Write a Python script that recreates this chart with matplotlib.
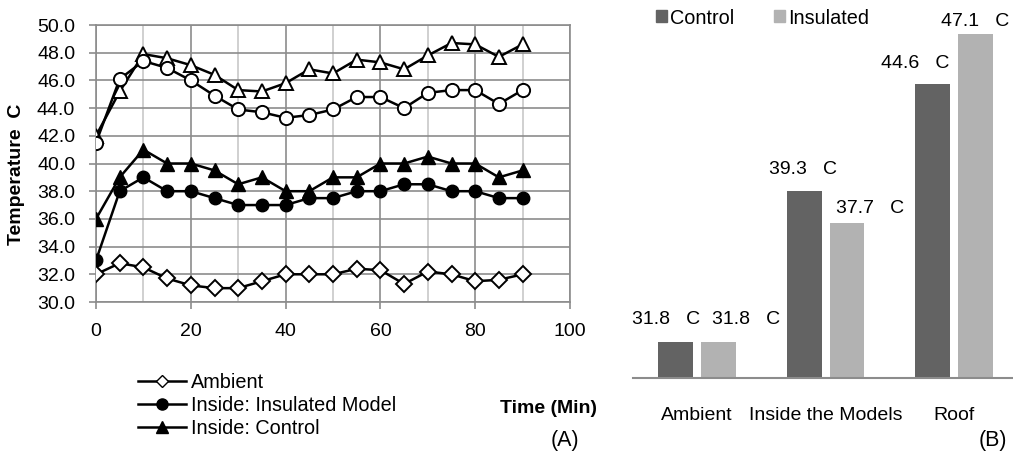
import numpy as np
import matplotlib.pyplot as plt
from matplotlib.patches import Patch
from matplotlib.lines import Line2D

plt.rcParams['font.family'] = ['Liberation Sans', 'DejaVu Sans']

# (A) temperature over time
time_min = [0, 5, 10, 15, 20, 25, 30, 35, 40, 45, 50, 55, 60, 65, 70, 75, 80, 85, 90]
ambient = [32.0, 32.8, 32.5, 31.7, 31.2, 31.0, 31.0, 31.5, 32.0, 32.0, 32.0, 32.4, 32.3, 31.3, 32.2, 32.0, 31.5, 31.6, 32.0]
inside_insulated = [33.0, 38.0, 39.0, 38.0, 38.0, 37.5, 37.0, 37.0, 37.0, 37.5, 37.5, 38.0, 38.0, 38.5, 38.5, 38.0, 38.0, 37.5, 37.5]
inside_control = [36.0, 39.0, 41.0, 40.0, 40.0, 39.5, 38.5, 39.0, 38.0, 38.0, 39.0, 39.0, 40.0, 40.0, 40.5, 40.0, 40.0, 39.0, 39.5]
roof_insulated = [41.5, 46.1, 47.4, 46.9, 46.0, 44.9, 43.9, 43.7, 43.3, 43.5, 43.9, 44.8, 44.8, 44.0, 45.1, 45.3, 45.3, 44.3, 45.3]
roof_control = [42.0, 45.2, 47.9, 47.6, 47.1, 46.4, 45.3, 45.2, 45.8, 46.8, 46.5, 47.5, 47.3, 46.8, 47.8, 48.7, 48.6, 47.7, 48.6]

# (B) averages
categories = ["Ambient", "Inside the Models", "Roof"]
avg_control = [31.8, 39.3, 44.6]
avg_insulated = [31.8, 37.7, 47.1]

W, H = 1013, 461
fig = plt.figure(figsize=(W / 100, H / 100), dpi=100)

def box(x0, y0, x1, y1):
    # pixel box -> figure fraction
    return [x0 / W, 1 - y1 / H, (x1 - x0) / W, (y1 - y0) / H]

grid_dark = '#8c8c8c'
grid_light = '#c8c8c8'
fs = 14

ax = fig.add_axes(box(96, 25, 570, 302))
ax.set_xlim(0, 100)
ax.set_ylim(30, 50)
ax.set_xticks(np.arange(0, 101, 20))
ax.set_xticks(np.arange(10, 100, 20), minor=True)
ax.set_yticks(np.arange(30, 50.1, 2))
ax.set_yticklabels([f"{v:.1f}" for v in np.arange(30, 50.1, 2)])
ax.grid(True, which='major', color=grid_dark, lw=1.2, zorder=0)
ax.grid(True, which='minor', axis='x', color=grid_light, lw=1.2, zorder=0)
for s in ax.spines.values():
    s.set_color(grid_dark)
    s.set_linewidth(1.2)
ax.tick_params(which='major', length=5, color=grid_dark, width=1.2, labelsize=fs, pad=10)
ax.tick_params(which='minor', length=0)
ax.set_axisbelow(True)

lw = 1.8
ax.plot(time_min, roof_control, '-^', color='black', mfc='white', mec='black', ms=10, lw=lw, mew=1.4, zorder=3)
ax.plot(time_min, roof_insulated, '-o', color='black', mfc='white', mec='black', ms=9.5, lw=lw, mew=1.4, zorder=3)
ax.plot(time_min, inside_control, '-^', color='black', mfc='black', ms=10, lw=lw, zorder=3)
ax.plot(time_min, inside_insulated, '-o', color='black', mfc='black', ms=9, lw=lw, zorder=3)
ax.plot(time_min, ambient, '-D', color='black', mfc='white', mec='black', ms=8.5, lw=lw, mew=1.4, zorder=3)

fig.text(17 / W, 1 - 174 / H, "Temperature  C", rotation=90, ha='center', va='center',
         fontsize=fs, fontweight='bold')
fig.text(548 / W, 1 - 408 / H, "Time (Min)", ha='center', va='center', fontsize=fs, fontweight='bold')
fig.text(565 / W, 1 - 440 / H, "(A)", ha='center', va='center', fontsize=15.5)

leg_handles = [
    Line2D([], [], color='black', marker='D', mfc='white', mec='black', ms=6, lw=1.8),
    Line2D([], [], color='black', marker='o', mfc='black', ms=8, lw=1.8),
    Line2D([], [], color='black', marker='^', mfc='black', ms=8, lw=1.8),
]
fig.legend(leg_handles, ["Ambient", "Inside: Insulated Model", "Inside: Control"],
           loc='upper left', bbox_to_anchor=(138 / W, 1 - 373 / H), frameon=False,
           fontsize=fs + 0.3, handlelength=2.4, handletextpad=0.25, labelspacing=0.2,
           borderpad=0, borderaxespad=0)

# (B)
c_dark = '#636363'
c_light = '#b2b2b2'
ax2 = fig.add_axes(box(633, 16, 1013, 378))
x = np.arange(len(categories))
bw = 0.272
off = 0.167
b1 = ax2.bar(x - off, avg_control, bw, bottom=0, color=c_dark)
b2 = ax2.bar(x + off, avg_insulated, bw, bottom=0, color=c_light)
ax2.set_xlim(-0.5, 2.46)
ax2.set_ylim(30, 48)
ax2.set_yticks([])
for k in ['left', 'right', 'top']:
    ax2.spines[k].set_visible(False)
ax2.spines['bottom'].set_color(grid_dark)
ax2.spines['bottom'].set_linewidth(1.5)
ax2.set_xticks(x)
ax2.set_xticklabels(categories)
ax2.tick_params(axis='x', length=0, labelsize=fs, pad=21)

# label shifts in pixels (dx, dy from bar top)
shift_ctrl = [(-9.5, 22), (-1, 21), (-17, 21)]
shift_ins = [(27.5, 22), (23.5, 15), (0, 13)]
for bars, vals, shifts in [(b1, avg_control, shift_ctrl), (b2, avg_insulated, shift_ins)]:
    for bar, v, (dx, dy) in zip(bars, vals, shifts):
        ax2.annotate(f"{v}   C", (bar.get_x() + bar.get_width() / 2, v),
                     xytext=(dx * 0.72, dy * 0.72), textcoords='offset points',
                     ha='center', va='center', fontsize=fs)

fig.legend([Patch(color=c_dark), Patch(color=c_light)], ["Control", "Insulated"],
           loc='center left', bbox_to_anchor=(656 / W, 1 - 18 / H), ncol=2, frameon=False,
           fontsize=fs + 0.3, handlelength=0.55, handleheight=0.55, handletextpad=0.15,
           columnspacing=2.0, borderpad=0, borderaxespad=0)
fig.text(993 / W, 1 - 440 / H, "(B)", ha='center', va='center', fontsize=15.5)

fig.savefig("out.png", dpi=100)
